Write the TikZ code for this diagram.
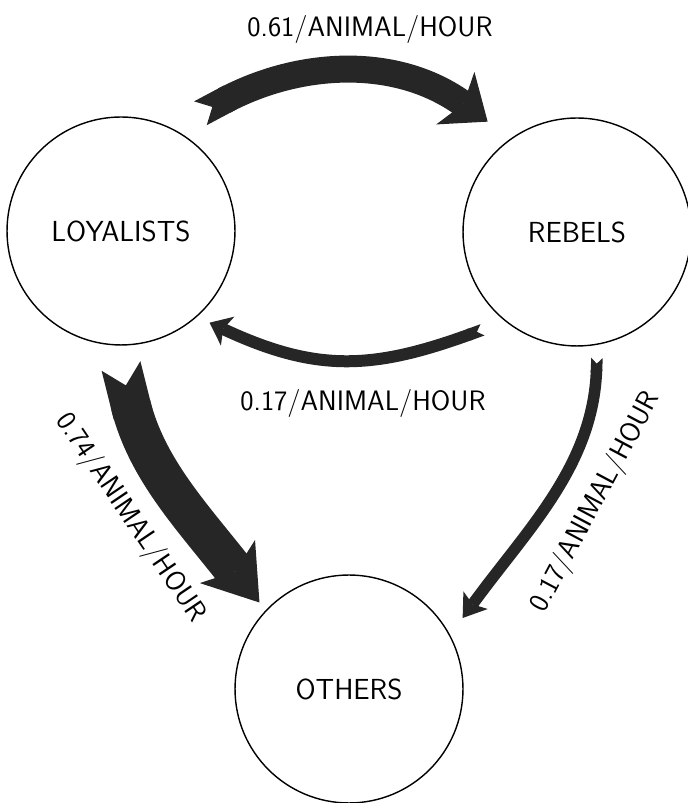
\documentclass[tikz,border=0pt]{standalone}
\usetikzlibrary{arrows.meta}
\begin{document}
\begin{tikzpicture}[x=0.02cm,y=0.02cm,
		pool/.style={draw,circle,line width=0.8pt,minimum size=4.56cm,inner sep=0pt,font=\sffamily\fontsize{16.5}{20}\selectfont},
		rate/.style={font=\sffamily\fontsize{16}{18}\selectfont},
		flow/.style={draw=black!85,line cap=butt}]
		\useasboundingbox (0,0) rectangle (687,803);
		\node[pool] (loy) at (121,572) {LOYALISTS};
		\node[pool] (reb) at (577,571) {REBELS};
		\node[pool] (oth) at (349,114) {OTHERS};
		% loyalists -> rebels
		\draw[flow,line width=0.54cm,{Triangle Cap[reversed]}-{Stealth[length=0.8cm,width=1.3cm,inset=0.2cm,line width=0pt]}] ([shift={(56:2.84cm)}]loy.center) to[out=28,in=144] ([shift={(129:2.84cm)}]reb.center);
		% rebels -> loyalists
		\draw[flow,line width=0.24cm,{Triangle Cap[reversed]}-{Stealth[length=0.4cm,width=0.64cm,inset=0.1cm,line width=0pt]}] ([shift={(226:2.72cm)}]reb.center) to[out=200,in=-25,looseness=1.1] ([shift={(314:2.55cm)}]loy.center);
		% loyalists -> others
		\draw[flow,line width=0.8cm,{Triangle Cap[reversed]}-{Stealth[length=1.04cm,width=1.4cm,inset=0.25cm,line width=0pt]}] ([shift={(270:2.7cm)}]loy.center) to[out=-76,in=128] ([shift={(136:2.49cm)}]oth.center);
		% rebels -> others
		\draw[flow,line width=0.23cm,{Triangle Cap[reversed]}-{Stealth[length=0.44cm,width=0.6cm,inset=0.1cm,line width=0pt]}] ([shift={(279:2.55cm)}]reb.center) to[out=-92,in=54,looseness=0.95] ([shift={(32:2.68cm)}]oth.center);
		\node[rate] (r1) at (370,774) {0.61/ANIMAL/HOUR};
		\node[rate] (r2) at (363,400) {0.17/ANIMAL/HOUR};
		\node[rate,rotate=-56] (r3) at (130,285) {0.74/ANIMAL/HOUR};
		\node[rate,rotate=62] (r4) at (596,301) {0.17/ANIMAL/HOUR};
	\end{tikzpicture}
\end{document}
